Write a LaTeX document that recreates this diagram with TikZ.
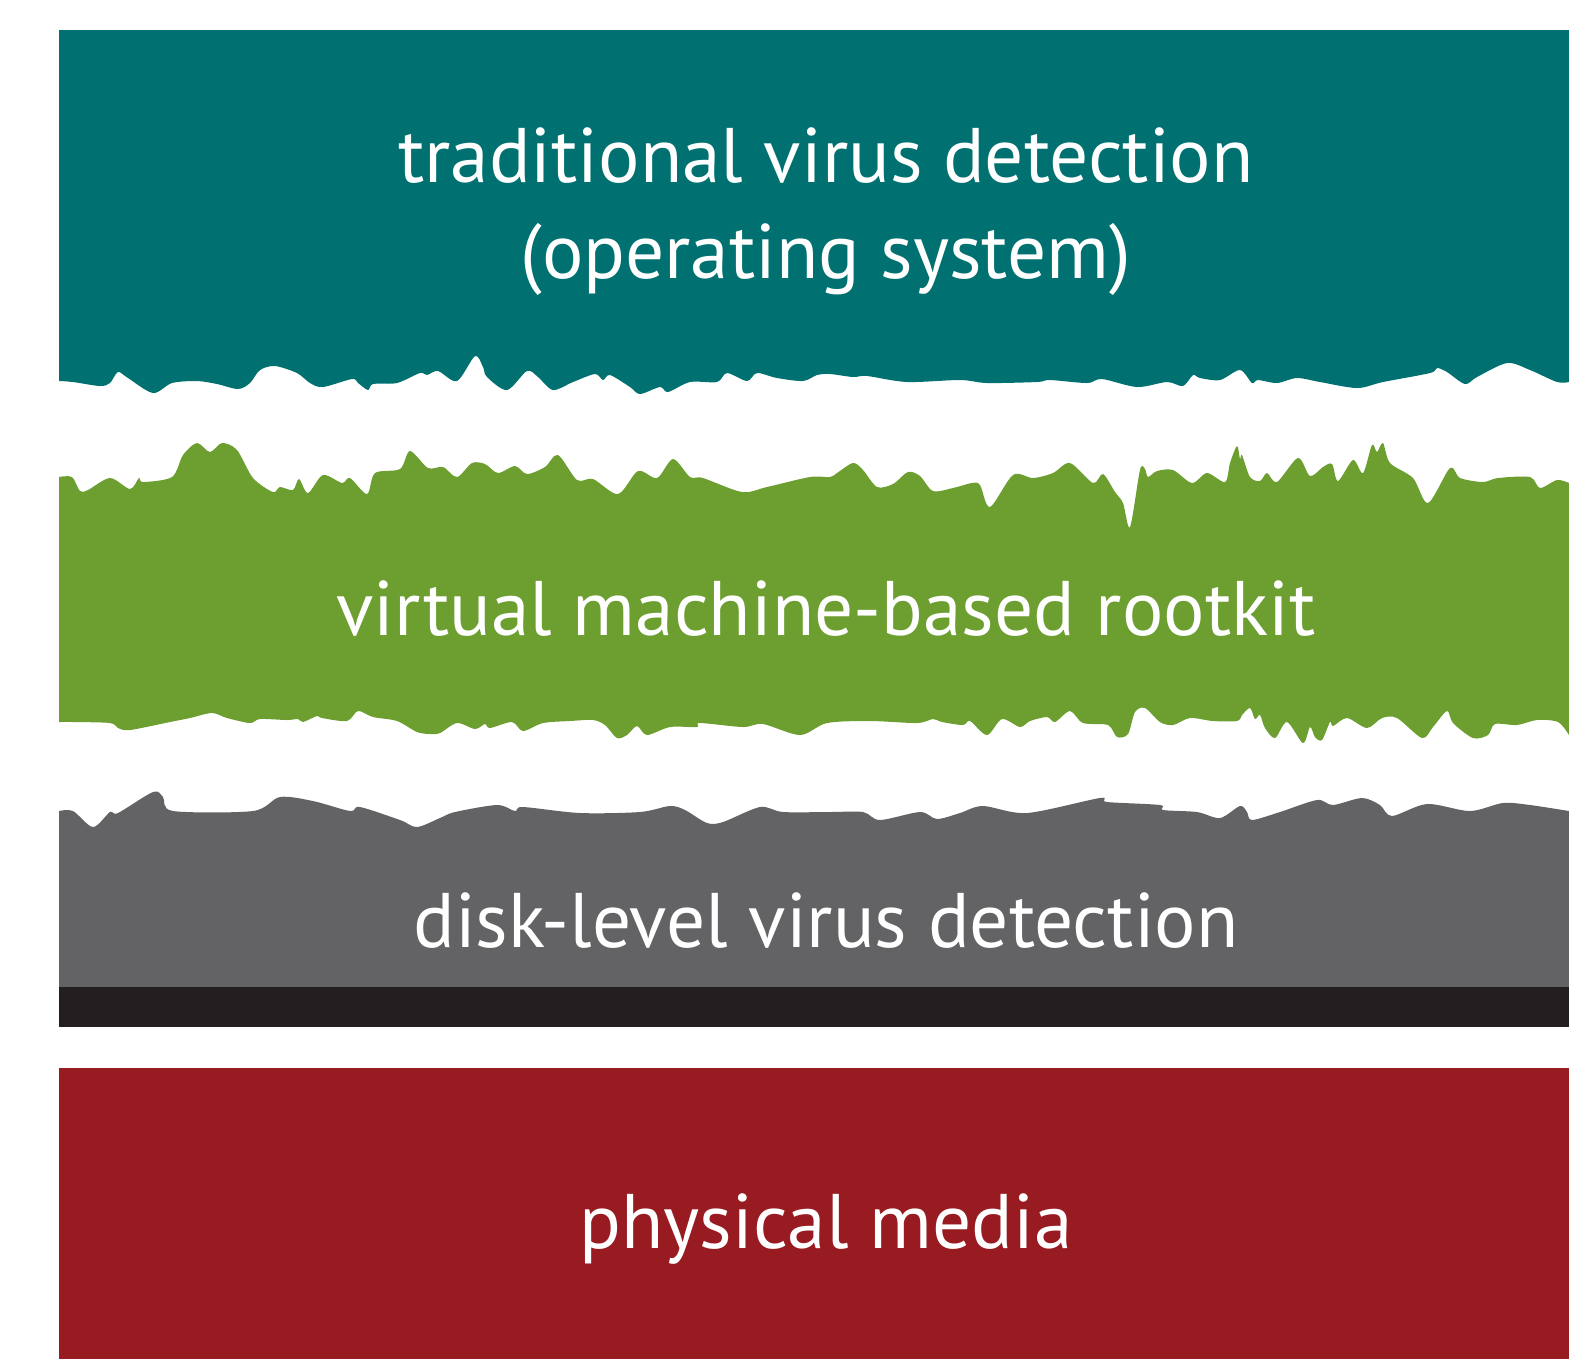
\documentclass[tikz,border=0pt]{standalone}
\usepackage{fontspec}
\setmainfont{PT Sans}
\usetikzlibrary{positioning}

\definecolor{osteal}{RGB}{0,113,112}
\definecolor{vmgreen}{RGB}{108,158,48}
\definecolor{diskgray}{RGB}{99,99,101}
\definecolor{diskblack}{RGB}{35,31,32}
\definecolor{mediared}{RGB}{151,27,32}

\begin{document}
\begin{tikzpicture}[x=0.01cm,y=-0.01cm,
		layertext/.style={text=white, inner sep=0pt, align=center, font=\fontsize{22}{27.3}\selectfont},
		edge/.style={smooth, tension=0.5},
	]
	\useasboundingbox (0,0) rectangle (1569,1359);
	% Draw layers
	\fill[osteal] (59,30) -- plot[edge] coordinates {(59,381) (73,382) (100,386) (110,383) (118,372) (128,378) (153,393) (172,383) (197,381) (217,384) (238,389) (250,383) (260,370) (275,366) (297,373) (310,383) (323,387) (352,379) (358,383) (368,390) (373,384) (397,383) (420,373) (427,375) (438,371) (457,381) (475,356) (483,367) (487,377) (507,390) (527,371) (538,377) (553,390) (573,382) (595,374) (603,380) (610,375) (630,387) (640,394) (660,387) (668,392) (690,382) (717,382) (727,373) (747,381) (757,373) (777,378) (803,381) (817,375) (830,374) (853,377) (867,376) (907,382) (960,380) (987,383) (1037,382) (1050,380) (1087,383) (1102,379) (1137,387) (1167,382) (1183,386) (1193,375) (1200,378) (1220,380) (1240,370) (1252,383) (1258,380) (1277,383) (1297,378) (1320,382) (1357,388) (1383,382) (1430,373) (1437,368) (1447,372) (1465,384) (1477,377) (1507,363) (1530,370) (1557,382) (1569,382)} -- (1569,30) -- cycle;
	\fill[vmgreen] plot[edge] coordinates {(59,477) (72,477) (80,491) (88,490) (110,478) (130,489) (139,478) (143,482) (172,477) (183,455) (197,443) (210,452) (222,443) (237,450) (253,478) (273,492) (280,487) (293,490) (299,479) (308,493) (323,475) (342,483) (350,478) (367,494) (375,473) (400,469) (410,451) (428,468) (443,467) (457,477) (472,463) (485,464) (498,473) (515,466) (527,474) (545,467) (558,455) (577,480) (593,479) (618,494) (638,471) (657,478) (673,459) (690,477) (703,478) (742,492) (767,487) (810,477) (830,477) (837,473) (853,463) (863,470) (877,487) (893,484) (908,472) (920,476) (933,491) (953,488) (972,483) (980,485) (990,507) (1013,475) (1033,478) (1053,473) (1070,463) (1093,483) (1103,474) (1115,492) (1123,503) (1130,527) (1140,470) (1145,469) (1148,477) (1157,471) (1173,470) (1192,483) (1207,473) (1225,482) (1230,463) (1237,446) (1240,459) (1242,455) (1250,477) (1260,481) (1267,473) (1277,482) (1298,458) (1310,476) (1323,467) (1332,464) (1338,481) (1353,460) (1363,473) (1372,445) (1377,452) (1383,443) (1390,463) (1413,478) (1428,503) (1450,468) (1460,478) (1483,482) (1498,478) (1530,477) (1540,488) (1557,480) (1569,483)}
		-- plot[edge] coordinates {(1569,735) (1558,722) (1537,720) (1517,725) (1495,724) (1488,735) (1473,738) (1453,723) (1447,711) (1433,727) (1422,738) (1397,718) (1382,718) (1367,728) (1347,718) (1333,726) (1330,722) (1322,740) (1315,737) (1310,727) (1303,743) (1287,722) (1275,738) (1265,728) (1260,715) (1255,719) (1250,708) (1242,715) (1237,721) (1213,721) (1190,718) (1173,725) (1160,722) (1145,708) (1135,712) (1128,734) (1117,737) (1108,725) (1083,723) (1070,711) (1055,722) (1047,717) (1030,721) (1020,727) (1002,719) (987,735) (970,721) (963,725) (942,722) (933,719) (917,723) (870,721) (827,723) (800,735) (763,724) (743,727) (700,723) (697,727) (670,727) (647,735) (637,726) (627,735) (617,738) (605,725) (593,720) (570,721) (543,723) (523,731) (512,722) (490,728) (485,724) (475,729) (457,723) (440,733) (430,734) (417,732) (397,721) (373,717) (358,711) (347,721) (322,718) (317,716) (303,722) (298,719) (287,720) (260,719) (250,723) (227,718) (212,713) (190,718) (170,722) (130,730) (118,728) (110,723) (73,722) (59,722)} -- cycle;
	\fill[diskgray] plot[edge] coordinates {(59,811) (73,811) (93,827) (110,812) (118,813) (153,792) (163,797) (173,811) (253,811) (280,797) (313,801) (350,811) (360,807) (400,820) (417,827) (440,818) (455,812) (497,805) (515,811) (523,807) (580,813) (640,812) (670,806) (685,810) (707,823) (723,822) (760,807) (783,812) (830,812) (863,812) (880,820) (920,812) (937,819) (960,813) (983,806) (1027,813) (1100,798) (1107,802) (1160,805) (1163,810) (1197,812) (1220,818) (1240,806) (1247,812) (1252,820) (1280,812) (1317,800) (1333,805) (1362,798) (1380,805) (1392,816) (1427,804) (1470,811) (1503,803) (1530,805) (1569,811)} -- (1569,987) -- (59,987) -- cycle;
	\fill[diskblack] (59,987) rectangle (1569,1027);
	\fill[mediared] (59,1068) rectangle (1569,1359);
	% Draw labels
	\node (osText) [layertext,anchor=base] at (826,278) {traditional virus detection\\(operating system)};
	\node (vmbrText) [layertext,anchor=base] at (826,635) {virtual machine-based rootkit};
	\node (diskText) [layertext,anchor=base] at (826,947) {disk-level virus detection};
	\node (mediaText) [layertext,anchor=base] at (826,1248) {physical media};
\end{tikzpicture}
\end{document}
